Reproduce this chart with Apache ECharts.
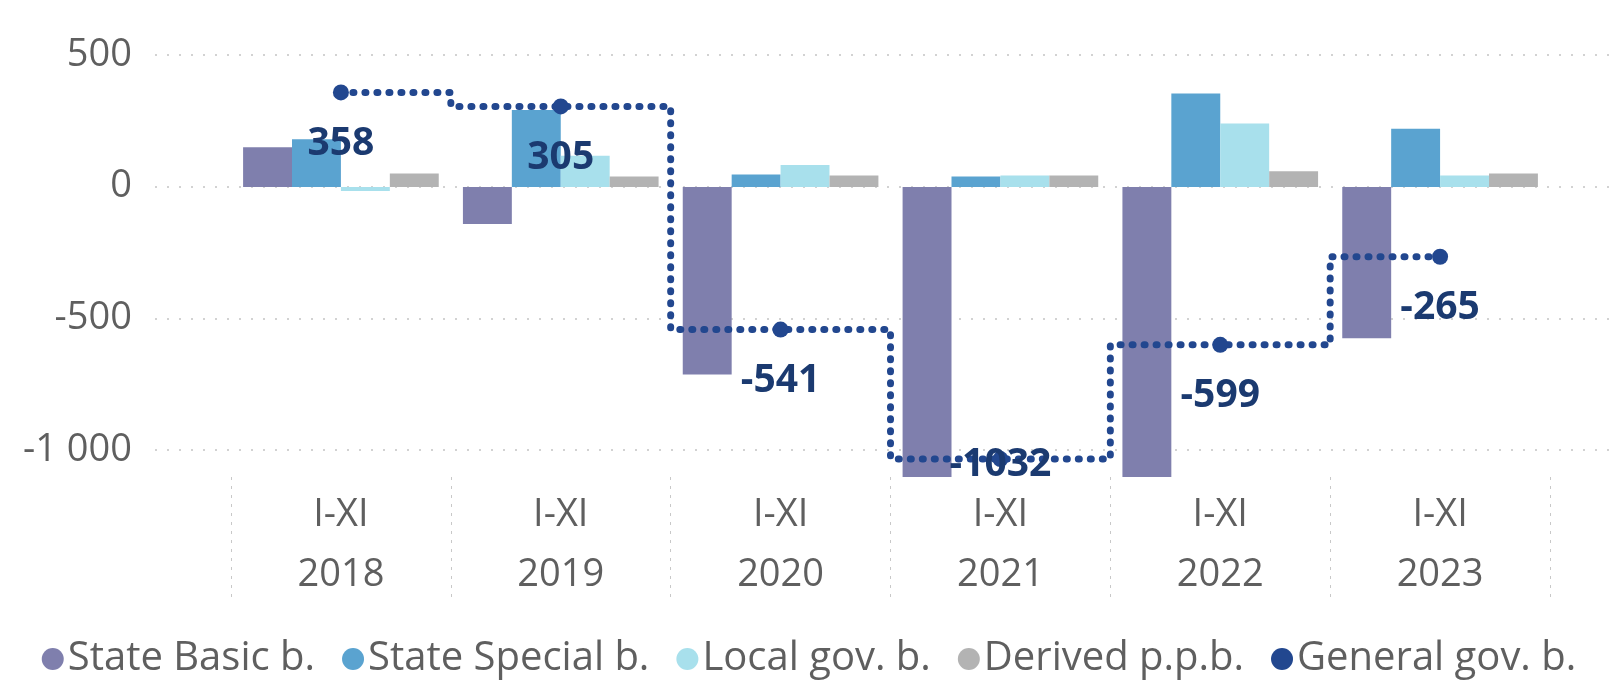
<!DOCTYPE html>
<html>
<head>
<meta charset="utf-8">
<script src="https://cdn.jsdelivr.net/npm/echarts@6/dist/echarts.min.js"></script>
<style>
    html, body { margin: 0; padding: 0; background: #fff; }
    #chart { width: 1618px; height: 684px; }
</style>
</head>
<body>
<div id="chart"></div>
<script>
    // budget balance, I-XI of each year
    let period = 'I-XI'
    let years = ['2018', '2019', '2020', '2021', '2022', '2023']
    let seriesNames = ['State Basic b.', 'State Special b.', 'Local gov. b.', 'Derived p.p.b.', 'General gov. b.']

    let stateBasic = [150, -141, -711, -1157, -1252, -574]
    let stateSpecial = [181, 291, 47, 39, 354, 220]
    let localGov = [-16, 118, 83, 43, 240, 43]
    let derived = [51, 39, 43, 43, 59, 51]
    let generalGov = [358, 305, -541, -1032, -599, -265]

    let yTicks = [-1000, -500, 0, 500]

    let colors = ['#7f7fad', '#5aa3d0', '#a8e0ec', '#b3b3b3', '#22478f']
    let font = '"Open Sans", "Noto Sans", sans-serif'

    function fmt(v) {
        let s = String(Math.abs(v)).replace(/\B(?=(\d{3})+(?!\d))/g, ' ')
        return (v < 0 ? '-' : '') + s
    }

    function barSeries(name, data) {
        return {
            name: name,
            type: 'bar',
            xAxisIndex: 1,
            yAxisIndex: 1,
            barGap: 0,
            barCategoryGap: '11%',
            clip: true,
            data: data
        }
    }

    let lineData = generalGov.map(function (v) {
        // point on the bottom edge, its label is pushed up
        if (v < -1000) {
            return {value: v, label: {offset: [0, 6]}}
        }
        return v
    })

    let option = {
        animation: false,
        color: colors,
        textStyle: {fontFamily: font},
        legend: {
            bottom: 0,
            left: 'center',
            icon: 'circle',
            itemWidth: 22,
            itemHeight: 22,
            itemGap: 27,
            data: seriesNames,
            textStyle: {fontSize: 40, color: '#5f5f5f', fontFamily: font, padding: [0, 0, 0, -1]}
        },
        grid: [
            {left: 155, right: 8, top: 55, bottom: 234},
            {left: 231, right: 68, top: 55, bottom: 207}
        ],
        xAxis: [
            {gridIndex: 0, type: 'category', show: false, data: years},
            {
                gridIndex: 1,
                type: 'category',
                data: years,
                axisLine: {show: false, onZero: false},
                axisTick: {
                    show: true,
                    length: 126,
                    lineStyle: {color: '#c8c8c8', type: [3, 6], width: 1}
                },
                axisLabel: {
                    margin: 8,
                    fontSize: 38,
                    lineHeight: 60,
                    color: '#5f5f5f',
                    fontFamily: font,
                    formatter: function (v) { return period + '\n' + v }
                }
            }
        ],
        yAxis: [
            {
                gridIndex: 0,
                type: 'value',
                min: yTicks[0],
                max: yTicks[yTicks.length - 1],
                interval: 500,
                axisLine: {show: false},
                axisTick: {show: false},
                axisLabel: {margin: 23, fontSize: 38, color: '#5f5f5f', fontFamily: font, formatter: fmt},
                splitLine: {lineStyle: {color: '#c4c4c4', type: [2, 10], width: 1.5}}
            },
            {
                gridIndex: 1,
                type: 'value',
                min: -1100,
                max: 500,
                show: false,
                splitLine: {show: false}
            }
        ],
        series: [
            barSeries(seriesNames[0], stateBasic),
            barSeries(seriesNames[1], stateSpecial),
            barSeries(seriesNames[2], localGov),
            barSeries(seriesNames[3], derived),
            {
                name: seriesNames[4],
                type: 'line',
                xAxisIndex: 1,
                yAxisIndex: 1,
                step: 'middle',
                z: 5,
                symbol: 'circle',
                symbolSize: 16,
                itemStyle: {color: colors[4]},
                lineStyle: {color: colors[4], width: 7, type: [1, 11], cap: 'round'},
                label: {
                    show: true,
                    position: 'inside',
                    offset: [0, 51],
                    fontSize: 39,
                    fontWeight: 'bold',
                    color: '#1b3a70',
                    fontFamily: font
                },
                data: lineData
            }
        ]
    }

    let myChart = echarts.init(document.getElementById('chart'))
    myChart.setOption(option)
</script>
</body>
</html>
